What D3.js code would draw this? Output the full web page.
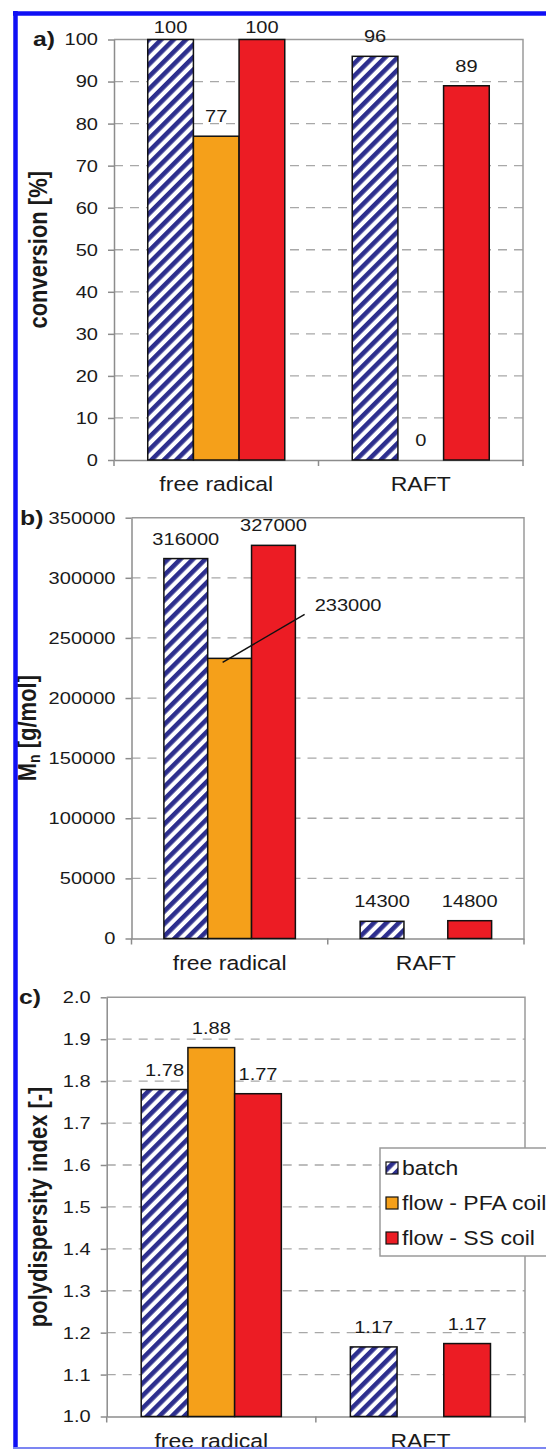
<!DOCTYPE html>
<meta charset="utf-8">
<script src="https://cdn.jsdelivr.net/npm/d3@7"></script>
<style>
body { margin: 0; background: #fff; }
text { font-family: "Liberation Sans", Arial, sans-serif; fill: #1a1a1a; }
.grid line { stroke: #a8a8a8; stroke-width: 1.3; stroke-dasharray: 9,7; }
.frame { stroke: #9a9a9a; stroke-width: 1.5; fill: none; }
.axis path, .axis line { stroke: #8c8c8c; stroke-width: 1.5; }
.bar { stroke: #111; stroke-width: 1.5; }
</style>
<body>
<div id="chart"></div>
<script>
// ---------------- data ----------------
const categories = ["free radical", "RAFT"];
const series = ["batch", "flow - PFA coil", "flow - SS coil"];

// one row per category, one value per series (null = no bar)
const conversion = [[100, 77, 100], [96, 0, 89]];
const molarMass = [[316000, 233000, 327000], [14300, null, 14800]];
const pdi = [[1.78, 1.88, 1.77], [1.166, null, 1.174]];

const convTicks = d3.range(0, 101, 10);
const mnTicks = d3.range(0, 350001, 50000);
const pdiTicks = d3.range(10, 21).map(d => d / 10);

// ---------------- setup ----------------
const W = 546, H = 1452;
const SX = 1.18; // the figure is horizontally stretched, so text is too
const colors = ["url(#hatch)", "#f5a01a", "#ec1c24"];

const svg = d3.select("#chart").append("svg")
    .attr("width", W)
    .attr("height", H);

const defs = svg.append("defs");
const pat = defs.append("pattern")
    .attr("id", "hatch")
    .attr("patternUnits", "userSpaceOnUse")
    .attr("width", 8.8)
    .attr("height", 8.8)
    .attr("patternTransform", "rotate(45)");
pat.append("rect").attr("width", 8.8).attr("height", 8.8).attr("fill", "#fff");
pat.append("rect").attr("width", 4.6).attr("height", 8.8).attr("fill", "#2d2f8e");

function txt(sel, x, y, s, anchor, size, weight) {
    return sel.append("text")
        .attr("transform", "translate(" + x + "," + y + ") scale(" + SX + ",1)")
        .attr("text-anchor", anchor)
        .style("font-size", size + "px")
        .style("font-weight", weight || "normal")
        .text(s);
}

function panel(p) {
    const g = svg.append("g");

    const x0 = d3.scaleBand().domain(categories)
        .range([p.left, p.right])
        .paddingInner(0.33)
        .paddingOuter(0.165);
    const x1 = d3.scaleBand().domain(series).range([0, x0.bandwidth()]);
    const y = d3.scaleLinear().domain([p.ticks[0], p.ticks[p.ticks.length - 1]])
        .range([p.bottom, p.top]);

    // gridlines
    g.append("g").attr("class", "grid")
        .selectAll("line")
        .data(p.ticks.slice(1, -1))
        .enter().append("line")
        .attr("x1", p.left).attr("x2", p.right)
        .attr("y1", d => y(d)).attr("y2", d => y(d));

    // top + right border
    g.append("path").attr("class", "frame")
        .attr("d", "M" + p.left + "," + y(p.ticks[p.ticks.length - 1]) +
            "H" + p.right + "V" + p.bottom);

    // y axis
    const ya = g.append("g").attr("class", "axis")
        .attr("transform", "translate(" + p.left + ",0)")
        .call(d3.axisLeft(y).tickValues(p.ticks).tickFormat(p.fmt)
            .tickSize(6).tickSizeOuter(0));
    ya.selectAll("text")
        .attr("x", -16 / SX)
        .attr("transform", "scale(" + SX + ",1)")
        .style("font-size", "17px")
        .attr("fill", "#1a1a1a");

    // x axis: boundary ticks + category labels
    const xa = g.append("g").attr("class", "axis")
        .attr("transform", "translate(0," + p.bottom + ")")
        .call(d3.axisBottom(x0).tickSize(0).tickPadding(0));
    xa.selectAll("text").remove();
    const bounds = [p.left, (x0(categories[0]) + x0.bandwidth() + x0(categories[1])) / 2, p.right];
    xa.selectAll(".bt").data(bounds).enter().append("line")
        .attr("x1", d => d).attr("x2", d => d)
        .attr("y1", 0).attr("y2", 6);
    categories.forEach(c => {
        txt(g, x0(c) + x0.bandwidth() / 2, p.bottom + 31, c, "middle", 19.5);
    });

    // bars
    const rows = categories.map((c, i) => ({ cat: c, vals: p.values[i] }));
    const grp = g.selectAll(".grp").data(rows).enter().append("g")
        .attr("transform", d => "translate(" + x0(d.cat) + ",0)");
    const cells = grp.selectAll(".cell")
        .data(d => d.vals.map((v, j) => ({ s: series[j], v: v, j: j, cat: d.cat })))
        .enter();
    cells.filter(d => d.v !== null && y(d.v) < p.bottom)
        .append("rect")
        .attr("class", "bar")
        .attr("x", d => x1(d.s))
        .attr("width", x1.bandwidth())
        .attr("y", d => y(d.v))
        .attr("height", d => p.bottom - y(d.v))
        .attr("fill", d => colors[d.j]);

    // value labels
    rows.forEach(r => {
        r.vals.forEach((v, j) => {
            if (v === null) return;
            const cx = x0(r.cat) + x1(series[j]) + x1.bandwidth() / 2;
            const yb = y(v);
            if (p.callout && r.cat === p.callout[0] && j === p.callout[1]) {
                g.append("line")
                    .attr("x1", cx - 7).attr("y1", yb + 4)
                    .attr("x2", cx + 75).attr("y2", yb - 44)
                    .attr("stroke", "#111").attr("stroke-width", 1.5);
                txt(g, cx + 85, yb - 47, p.fmt(v), "start", 17);
                return;
            }
            const by = Math.max(yb - 14, p.top - 7);
            txt(g, cx, by, p.fmt(v), "middle", 17);
        });
    });

    // axis title (rotated) and panel letter
    const t = g.append("text")
        .attr("transform", "translate(" + p.titleX + "," + ((p.top + p.bottom) / 2) + ") scale(" + SX + ",1) rotate(-90)")
        .attr("text-anchor", "middle")
        .style("font-size", "22px")
        .style("font-weight", "bold");
    p.title(t);
    txt(g, p.letterX, p.letterY, p.letter, "start", 21, "bold");

    return { g: g, y: y };
}

// ---------------- panels ----------------
panel({
    left: 114, right: 523, top: 39.5, bottom: 460,
    values: conversion, ticks: convTicks, fmt: d3.format("d"),
    titleX: 47, letter: "a)", letterX: 33, letterY: 46,
    title: t => t.text("conversion [%]")
});

panel({
    left: 131.5, right: 524, top: 517.7, bottom: 938.5,
    values: molarMass, ticks: mnTicks, fmt: d3.format("d"),
    callout: ["free radical", 1],
    titleX: 36, letter: "b)", letterX: 20, letterY: 525,
    title: t => {
        t.append("tspan").text("M");
        t.append("tspan").attr("dy", 3).style("font-size", "14px").text("n");
        t.append("tspan").attr("dy", -3).text(" [g/mol]");
    }
});

const pc = panel({
    left: 106.7, right: 525, top: 997.3, bottom: 1416.5,
    values: pdi, ticks: pdiTicks, fmt: d3.format(".2f"),
    titleX: 47, letter: "c)", letterX: 19, letterY: 1004,
    title: t => t.text("polydispersity index [-]")
});
// pdi axis ticks use one decimal
pc.g.selectAll(".axis .tick text").text(d => d3.format(".1f")(d));

// legend
const lg = svg.append("g").attr("transform", "translate(380,1148)");
lg.append("rect")
    .attr("width", 200).attr("height", 108)
    .attr("fill", "#fff").attr("stroke", "#9a9a9a").attr("stroke-width", 1.5);
series.forEach((s, i) => {
    const cy = 20 + i * 35;
    lg.append("rect")
        .attr("x", 6).attr("y", cy - 6).attr("width", 12).attr("height", 12)
        .attr("fill", colors[i]).attr("stroke", "#111").attr("stroke-width", 1.2);
    txt(lg, 22, cy + 7, s, "start", 19.5);
});

// blue figure frame
svg.append("line").attr("x1", 15.5).attr("x2", 15.5).attr("y1", 11).attr("y2", 1449)
    .attr("stroke", "#1010f5").attr("stroke-width", 4.5);
svg.append("line").attr("x1", 13).attr("x2", W).attr("y1", 13.5).attr("y2", 13.5)
    .attr("stroke", "#1010f5").attr("stroke-width", 4.5);
svg.append("line").attr("x1", 13).attr("x2", W).attr("y1", 1448).attr("y2", 1448)
    .attr("stroke", "#7c86f2").attr("stroke-width", 2);
</script>
</body>
